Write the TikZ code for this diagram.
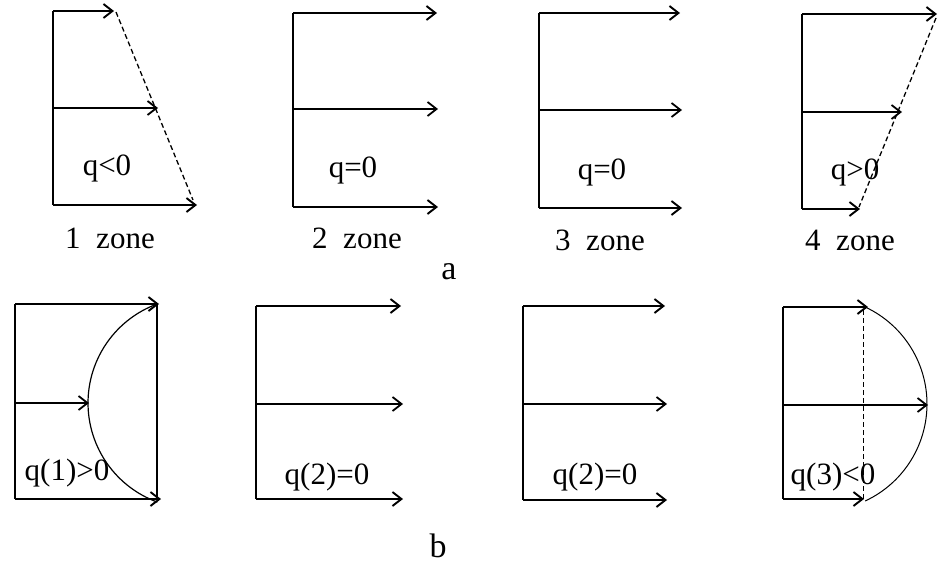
\documentclass[tikz,border=0pt]{standalone}
\usepackage{fontspec}
\setmainfont{Liberation Serif}
\usetikzlibrary{arrows.meta}
\begin{document}
\begin{tikzpicture}[x=1pt,y=-1pt,
  axisline/.style={line width=2.3pt},
  vec/.style={line width=2.1pt,-{Straight Barb[length=9pt,width=14pt,line width=1.9pt]}},
  vecthin/.style={line width=1.6pt,-{Straight Barb[length=9pt,width=14pt,line width=1.8pt]}},
  envdash/.style={line width=1.3pt,dash pattern=on 5pt off 3pt},
  envcurve/.style={line width=1.2pt},
  lbl/.style={font=\fontsize{31}{34}\selectfont,inner sep=0pt},
  captionlbl/.style={font=\fontsize{34}{38}\selectfont,inner sep=0pt}]
\useasboundingbox (0,0) rectangle (940,567);

% ---------- row a ----------
% zone 1
\coordinate (a1t) at (53,11); \coordinate (a1m) at (53,108); \coordinate (a1b) at (53,205);
\coordinate (a1tt) at (114,11); \coordinate (a1mt) at (158,108); \coordinate (a1bt) at (197,205);
\draw[axisline] (a1t) -- (a1b);
\draw[vec] (a1t) -- (a1tt);
\draw[vecthin] (a1m) -- (a1mt);
\draw[vec] (a1b) -- (a1bt);
\draw[envdash] (116,12) -- (193,200);
\node[lbl] (qa1) at (107,168) {q<0};
\node[lbl] (za1) at (110,238) {1\ \ zone};

% zone 2
\coordinate (a2t) at (293,13); \coordinate (a2m) at (293,109); \coordinate (a2b) at (293,207);
\coordinate (a2tt) at (437,13); \coordinate (a2mt) at (438,109); \coordinate (a2bt) at (438,207);
\draw[axisline] (a2t) -- (a2b);
\draw[vec] (a2t) -- (a2tt);
\draw[vecthin] (a2m) -- (a2mt);
\draw[vec] (a2b) -- (a2bt);
\node[lbl] (qa2) at (353,170) {q=0};
\node[lbl] (za2) at (357,238) {2\ \ zone};

% zone 3
\coordinate (a3t) at (539,13); \coordinate (a3m) at (539,110); \coordinate (a3b) at (539,208);
\coordinate (a3tt) at (680,13); \coordinate (a3mt) at (682,110); \coordinate (a3bt) at (682,208);
\draw[axisline] (a3t) -- (a3b);
\draw[vec] (a3t) -- (a3tt);
\draw[vecthin] (a3m) -- (a3mt);
\draw[vec] (a3b) -- (a3bt);
\node[lbl] (qa3) at (602,172) {q=0};
\node[lbl] (za3) at (600,240) {3\ \ zone};

% zone 4
\coordinate (a4t) at (802,14); \coordinate (a4m) at (802,112); \coordinate (a4b) at (802,209);
\coordinate (a4tt) at (937,14); \coordinate (a4mt) at (902,112); \coordinate (a4bt) at (860,209);
\draw[axisline] (a4t) -- (a4b);
\draw[vec] (a4t) -- (a4tt);
\draw[vecthin] (a4m) -- (a4mt);
\draw[vec] (a4b) -- (a4bt);
\draw[envdash] (936,18) -- (859,207);
\node[lbl] (qa4) at (855,172) {q>0};
\node[lbl] (za4) at (850,240) {4\ \ zone};

\node[captionlbl] (capa) at (449,272) {a};

% ---------- row b ----------
% panel 1
\coordinate (b1t) at (15,304); \coordinate (b1m) at (15,403); \coordinate (b1b) at (15,499);
\coordinate (b1tt) at (159,304); \coordinate (b1mt) at (89,403); \coordinate (b1bt) at (161,499);
\draw[axisline] (b1t) -- (b1b);
\draw[vec] (b1t) -- (b1tt);
\draw[vecthin] (b1m) -- (b1mt);
\draw[vec] (b1b) -- (b1bt);
\draw[envcurve] (157,304) -- (157,499);
\draw[envcurve] plot[domain=-70:70,samples=60,variable=\t] ({193.5-105.5*cos(\t)},{403+105.5*sin(\t)});
\node[lbl] (qb1) at (67,473) {q(1)>0};

% panel 2
\coordinate (b2t) at (256,306); \coordinate (b2m) at (256,404); \coordinate (b2b) at (256,499);
\coordinate (b2tt) at (401,306); \coordinate (b2mt) at (403,404); \coordinate (b2bt) at (403,499);
\draw[axisline] (b2t) -- (b2b);
\draw[vec] (b2t) -- (b2tt);
\draw[vecthin] (b2m) -- (b2mt);
\draw[vec] (b2b) -- (b2bt);
\node[lbl] (qb2) at (327,477) {q(2)=0};

% panel 3
\coordinate (b3t) at (523,306); \coordinate (b3m) at (523,404); \coordinate (b3b) at (523,500);
\coordinate (b3tt) at (665,306); \coordinate (b3mt) at (667,404); \coordinate (b3bt) at (667,500);
\draw[axisline] (b3t) -- (b3b);
\draw[vec] (b3t) -- (b3tt);
\draw[vecthin] (b3m) -- (b3mt);
\draw[vec] (b3b) -- (b3bt);
\node[lbl] (qb3) at (595,477) {q(2)=0};

% panel 4
\coordinate (b4t) at (783,307); \coordinate (b4m) at (783,405); \coordinate (b4b) at (783,499);
\coordinate (b4tt) at (868,307); \coordinate (b4mt) at (928,405); \coordinate (b4bt) at (864,499);
\draw[axisline] (b4t) -- (b4b);
\draw[vec] (b4t) -- (b4tt);
\draw[vecthin] (b4m) -- (b4mt);
\draw[vec] (b4b) -- (b4bt);
\draw[envdash,line width=1pt] (863,310) -- (863,499);
\draw[envcurve,line width=1pt] plot[domain=-65:65,samples=60,variable=\t] ({820+107*cos(\t)},{404+107*sin(\t)});
\node[lbl] (qb4) at (833,477) {q(3)<0};

\node[captionlbl] (capb) at (438,546) {b};
\end{tikzpicture}
\end{document}
